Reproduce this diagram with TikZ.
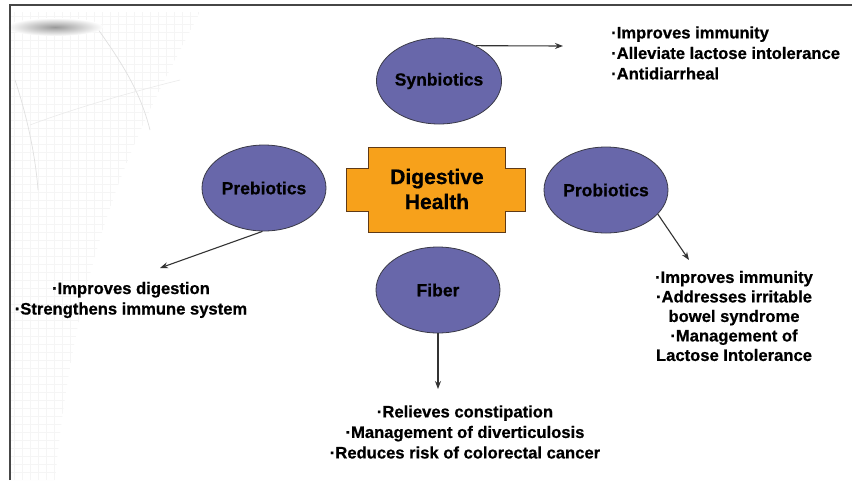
\documentclass[tikz,border=0pt]{standalone}
\usepackage{fontspec}
\setmainfont{Liberation Sans}[BoldFeatures={FakeBold=0.7}]
\usetikzlibrary{shapes.geometric,arrows.meta}

\definecolor{hubfill}{RGB}{247,161,27}
\definecolor{hubedge}{RGB}{95,58,22}
\definecolor{ovalfill}{RGB}{104,103,170}
\definecolor{ovaledge}{RGB}{58,58,72}
\definecolor{framegray}{RGB}{70,70,70}

\tikzset{
  topic/.style={ellipse, draw=ovaledge, fill=ovalfill, line width=0.8pt,
    minimum width=124pt, minimum height=86pt, inner sep=0pt,
    font=\fontsize{17.5}{20}\selectfont\bfseries, text=black},
  notes/.style={font=\fontsize{16.6}{20.5}\selectfont\bfseries, inner sep=0pt, text=black},
  link/.style={draw=black!80, line width=1.1pt, -{Stealth[length=8pt,width=6pt]}},
  texture/.style={black!4, line width=0.5pt}
}

\begin{document}
\begin{tikzpicture}[x=1pt,y=-1pt]
\useasboundingbox (0,0) rectangle (857,480);
\fill[white] (0,0) rectangle (857,480);

% faint globe texture in the upper left corner
\begin{scope}
  \clip (11,12) -- (200,12) .. controls (150,110) and (80,220) .. (55,480) -- (11,480) -- cycle;
  \foreach \gx in {14,22,...,200} \draw[texture] (\gx,12) -- (\gx,480);
  \foreach \gy in {16,24,...,480} \draw[texture] (11,\gy) -- (200,\gy);
\end{scope}
\draw[black!12, line width=0.7pt] (95,25) .. controls (120,60) and (140,90) .. (150,130);
\draw[black!12, line width=0.7pt] (15,80) .. controls (25,110) and (35,150) .. (38,190);
\draw[black!8, line width=0.6pt] (30,125) .. controls (70,110) and (120,95) .. (180,80);
\shade[inner color=black!40, outer color=white] (55,27) ellipse [x radius=48, y radius=9];

% frame
\draw[framegray, line width=1.3pt] (10,480) -- (10,5) -- (852,5);

% central hub
\draw[hubedge, fill=hubfill, line width=0.9pt]
  (368,147) -- (505,147) -- (505,168) -- (525,168) -- (525,211) -- (505,211)
  -- (505,232) -- (368,232) -- (368,211) -- (346,211) -- (346,168) -- (368,168) -- cycle;
\node[font=\fontsize{21}{25}\selectfont\bfseries, align=center, text=black] (hub) at (437,189)
  {Digestive\\Health};

% topic ovals
\node[topic] (syn) at (439,81) {Synbiotics};
\node[topic] (pre) at (264,188) {Prebiotics};
\node[topic] (pro) at (606,190) {Probiotics};
\node[topic] (fib) at (438,290) {Fiber};

% note texts
\node[notes, align=left, anchor=west] (synNotes) at (611,53)
  {·Improves immunity\\·Alleviate lactose intolerance\\·Antidiarrheal};
\node[notes, align=center] (preNotes) at (131,300)
  {·Improves digestion\\·Strengthens immune system};
\node[notes, align=center, font=\fontsize{16.6}{19.5}\selectfont\bfseries] (proNotes) at (734,316)
  {·Improves immunity\\·Addresses irritable\\bowel syndrome\\·Management of\\Lactose Intolerance};
\node[notes, align=center] (fibNotes) at (465,432)
  {·Relieves constipation\\·Management of diverticulosis\\·Reduces risk of colorectal cancer};

% arrow end points
\coordinate (synEnd) at (563,46);
\coordinate (preEnd) at (160,268);
\coordinate (proEnd) at (689,260);
\coordinate (fibEnd) at (438,389);

% connectors
\draw[link] (syn.44) -- (synEnd);
\draw[link] (pre.-92) -- (preEnd);
\draw[link] (pro.-25) -- (proEnd);
\draw[link] (fib.south) -- (fibEnd);
\end{tikzpicture}
\end{document}
